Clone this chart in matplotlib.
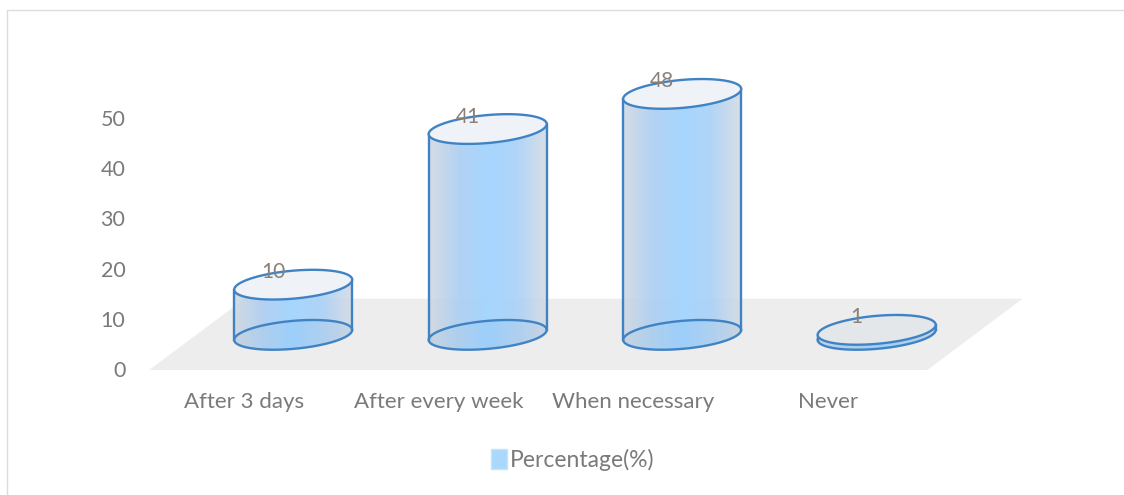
import numpy as np
import matplotlib
matplotlib.use("Agg")
import matplotlib.pyplot as plt
from matplotlib.colors import LinearSegmentedColormap
from matplotlib.patches import Patch, PathPatch, Polygon, Rectangle
from matplotlib.path import Path

categories = ["After 3 days", "After every week", "When necessary", "Never"]
values = [10, 41, 48, 1]
y_ticks = [0, 10, 20, 30, 40, 50]
series_name = "Percentage(%)"

FONT = "Lato"
GREY = "#7a7a7a"
LABEL = "#8a8078"
EDGE = "#4083c4"
W, H = 1124, 495
fig = plt.figure(figsize=(W / 100, H / 100), dpi=100)
fig.add_artist(Rectangle((7 / W, -0.05), 1.1, 1 - 10 / H + 0.05, transform=fig.transFigure,
                         fill=False, edgecolor="#dcdcdc", lw=1))

left, right, base, top = 135, 1030, 369, 60
ax = fig.add_axes([left / W, 1 - base / H, (right - left) / W, (base - top) / H])
ax.patch.set_alpha(0)
for s in ax.spines.values():
    s.set_visible(False)

PXX, PXY = 194.5, 5.02
X0 = 246.5
xlim = ((left - X0) / PXX, (right - X0) / PXX)
ylim = (0, (base - top) / PXY)

# perspective geometry of the 3-D floor and cylinders
FLOOR_DX, FLOOR_DY = 0.49, 14.0
CYL_DX, CYL_DY = 0.24, 6.8
A, B, SKEW = 59 / PXX, 14 / PXY, 5 / PXY

n = len(categories)
ax.add_patch(Polygon([(-0.5, -0.2), (n - 0.5, -0.2), (n - 0.5 + FLOOR_DX, FLOOR_DY), (-0.5 + FLOOR_DX, FLOOR_DY)],
                     closed=True, facecolor="#ededed", edgecolor="none", zorder=1, clip_on=False))

body_cmap = LinearSegmentedColormap.from_list("body", [
    (0.0, (0.80, 0.84, 0.88, 0.85)), (0.25, (0.68, 0.81, 0.95, 0.92)),
    (0.5, (0.65, 0.84, 1.0, 1.0)), (0.75, (0.67, 0.82, 0.97, 0.92)),
    (1.0, (0.82, 0.85, 0.89, 0.85))])
floor_cmap = LinearSegmentedColormap.from_list("floor", [
    (0.0, (0.76, 0.82, 0.88, 1)), (0.5, (0.60, 0.80, 0.98, 1)), (1.0, (0.76, 0.82, 0.88, 1))])
grad = np.linspace(0, 1, 256).reshape(1, -1)
t = np.linspace(0, 2 * np.pi, 181)


def ellipse(cx, cy):
    return np.column_stack([cx + A * np.cos(t), cy + B * np.sin(t) + SKEW * np.cos(t)])


for i, v in enumerate(values):
    cx, cy = i + CYL_DX, CYL_DY
    bottom = ellipse(cx, cy)
    upper = ellipse(cx, cy + v)
    extent = (cx - A, cx + A, cy - B - SKEW, cy + v + B + SKEW)

    lower_arc = bottom[90:181]                       # left → bottom → right
    top_arc = upper[0:91]                            # right → top → left
    outline = np.vstack([lower_arc, top_arc])
    body = PathPatch(Path(outline, closed=False), transform=ax.transData, facecolor="none", edgecolor="none")
    ax.add_patch(body)
    im = ax.imshow(grad, cmap=body_cmap, extent=extent, aspect="auto", zorder=2, interpolation="bilinear")
    im.set_clip_path(body)

    base_patch = Polygon(bottom, closed=True, transform=ax.transData, facecolor="none", edgecolor="none")
    ax.add_patch(base_patch)
    im2 = ax.imshow(grad, cmap=floor_cmap, extent=extent, aspect="auto", zorder=3, alpha=0.65,
                    interpolation="bilinear")
    im2.set_clip_path(base_patch)
    ax.add_patch(Polygon(bottom, closed=True, facecolor="none", edgecolor=EDGE, lw=1.7, zorder=4))

    ax.plot([bottom[90, 0], upper[90, 0]], [bottom[90, 1], upper[90, 1]], color=EDGE, lw=1.7, zorder=4)
    ax.plot([bottom[0, 0], upper[0, 0]], [bottom[0, 1], upper[0, 1]], color=EDGE, lw=1.7, zorder=4)
    ax.add_patch(Polygon(upper, closed=True, facecolor="#eff3f7" if v > 1 else "#e4e7ea",
                         edgecolor=EDGE, lw=1.7, zorder=5))
    ax.annotate(str(v), (cx, cy + v), xytext=(-14.5, 9), textcoords="offset points", ha="center",
                va="center", fontsize=15, color=LABEL, family=FONT, zorder=6)

ax.set_xlim(xlim)
ax.set_ylim(ylim)
ax.set_xticks([i - 0.01 for i in range(n)], categories, fontsize=16, color=GREY, family=FONT)
ax.set_yticks(y_ticks, [str(y) for y in y_ticks], fontsize=15.5, color=GREY, family=FONT)
ax.tick_params(axis="both", length=0)
ax.tick_params(axis="x", pad=16.5)
ax.tick_params(axis="y", pad=7)

handle = Patch(facecolor="#a9d8fb", edgecolor="#c5e4fb", lw=1)
fig.legend([handle], [series_name], loc="center", bbox_to_anchor=(573 / W, 1 - 460 / H), frameon=False,
           handlelength=0.7, handleheight=0.95, handletextpad=0.12, borderpad=0,
           prop={"family": FONT, "size": 16.5}, labelcolor=GREY)

fig.savefig("out.png", dpi=100)
